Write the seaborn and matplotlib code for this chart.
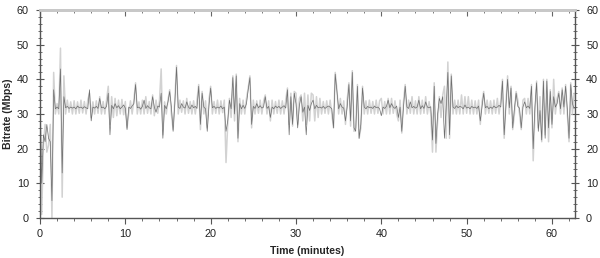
import numpy as np
import pandas as pd
import matplotlib
matplotlib.use("Agg")
import matplotlib.pyplot as plt
from matplotlib.ticker import MultipleLocator
import seaborn as sns

# time step of 0.2 minutes; one row = one minute (5 samples)
step_min = 0.2

dark_rows = [
    [37, 10, 24, 22, 27],
    [23, 22, 5, 37, 31.5],
    [32, 31.5, 43, 13, 35],
    [31.8, 32.2, 31.6, 32, 31.7],
    [32, 31.5, 32.3, 31.8, 32],
    [31.6, 32.1, 31.8, 31.5, 37],
    [28, 32, 31.7, 32.2, 31.6],
    [34.5, 31.8, 32, 31.5, 32.2],
    [36, 24, 32.5, 31.5, 33],
    [31.8, 32.4, 31.5, 32, 32.6],
    [31.7, 25.5, 32, 31.6, 32.3],
    [33, 38.5, 31.8, 32, 31.4],
    [32.2, 34, 31.6, 32.4, 31.8],
    [31.5, 35, 32, 30.5, 32.3],
    [32, 36, 23, 32.5, 31.5],
    [33.5, 36.5, 32, 25, 33],
    [43.5, 32, 31.6, 33, 32],
    [31.7, 33.5, 32, 31.5, 32.6],
    [31.8, 32.2, 31.6, 38, 27],
    [36, 32, 31.5, 25, 32.3],
    [37.5, 31.8, 32.2, 31.6, 32],
    [31.7, 32.3, 31.5, 32, 25],
    [28, 34, 31.5, 40.5, 30],
    [41, 23, 33, 31.5, 32.5],
    [31.6, 33, 37, 40.5, 27],
    [32.2, 31.6, 33, 31.8, 32.4],
    [31.7, 32, 35, 31.6, 32.2],
    [29, 32, 31.5, 32.3, 31.8],
    [32.2, 31.6, 32, 32.4, 31.7],
    [37, 24, 35, 27, 36],
    [33, 26, 32.5, 35, 30.5],
    [32, 24, 32.5, 31, 33],
    [34, 31.5, 32.5, 31.8, 32],
    [31.7, 32.2, 31.6, 32, 32.3],
    [32, 31.5, 26, 41.5, 36.5],
    [31.5, 33, 32, 31.7, 28],
    [32, 38.5, 28, 42, 26],
    [25, 38, 23, 27, 37.5],
    [32, 31.5, 32.2, 31.8, 32],
    [31.6, 32.3, 31.8, 32, 31.5],
    [29.5, 32, 31.6, 32.2, 34],
    [31.8, 33, 32, 31.6, 32.3],
    [29, 32, 25, 32, 38],
    [32, 31.6, 33.5, 31.8, 32.2],
    [31.7, 32, 34, 31.5, 32.4],
    [31.6, 33.5, 32, 31.8, 32.1],
    [22.5, 38, 21.5, 30, 34.5],
    [33, 35, 23, 31.5, 42],
    [24, 41, 32, 31.6, 32.4],
    [31.8, 32.2, 32, 31.5, 32.6],
    [31.7, 32, 31.5, 32.2, 31.8],
    [32, 31.6, 32.3, 28, 32],
    [36, 31.8, 32.2, 31.5, 32],
    [31.6, 32.3, 31.8, 32, 32.5],
    [32, 39.5, 24, 32, 40],
    [31.8, 37.5, 26, 31.6, 36],
    [32.2, 31.7, 26, 32, 33.5],
    [31.8, 32.3, 31.6, 38, 20],
    [32, 39, 25, 31, 22.5],
    [39.5, 23, 39.5, 26, 36.5],
    [27, 35, 32, 33, 36],
    [31.5, 37, 32, 38, 31.5],
    [23, 38.5, 33, 31.5],
]

light_rows = [
    [35, 1, 21, 27, 19],
    [21, 27, 0, 42, 30],
    [33, 30, 49, 6, 41],
    [30, 34, 30.5, 33.5, 30],
    [33.8, 30, 33.5, 30.2, 34],
    [30.3, 33.6, 30, 34, 36],
    [29, 33.5, 30, 33.8, 30.2],
    [35, 30, 33.6, 30, 34],
    [38, 27, 35, 29, 34.5],
    [29.5, 34, 30, 34.2, 29.8],
    [33.6, 26, 30.2, 33.8, 30],
    [34, 39, 30, 33.5, 30],
    [34, 30, 35, 30.2, 33.6],
    [30, 35.5, 29.5, 34, 30.2],
    [33.8, 43, 24, 33.5, 30],
    [34, 37, 30, 25.5, 34],
    [44, 30, 34, 30.5, 33.8],
    [30, 34.5, 30.2, 33.6, 30],
    [33.8, 30, 34, 38.5, 25.5],
    [36.5, 30, 33.8, 26, 34],
    [38, 30, 33.6, 30.2, 34],
    [30, 33.8, 30.4, 34, 16],
    [27, 34.5, 29, 41, 28],
    [41.5, 22, 34.5, 30, 34],
    [30, 34.5, 37.5, 41, 26],
    [34, 30, 33.8, 30.2, 34],
    [30, 33.6, 35.5, 30, 33.8],
    [28, 34, 30, 33.6, 30.2],
    [34, 30, 33.8, 30, 34],
    [37.5, 27, 36, 26.5, 36.5],
    [36, 27, 34.5, 35.5, 28],
    [36, 27, 35.5, 28, 36],
    [35.5, 28, 35, 29, 34.5],
    [30, 33.6, 30.2, 33.8, 30],
    [34, 30, 26, 42, 37],
    [30, 34.5, 30, 33.8, 27],
    [34, 39, 26.5, 42.5, 25],
    [26, 38.5, 23, 26, 38],
    [30, 33.8, 30, 34, 30.2],
    [33.6, 30, 34, 30.2, 33.8],
    [34.5, 30, 33.6, 30, 34.5],
    [30, 34.5, 30.2, 33.8, 30],
    [28, 34, 24.5, 33.5, 38.5],
    [30, 34, 30.2, 35, 30],
    [33.8, 30, 35, 30, 34],
    [30.2, 35, 30, 33.6, 30],
    [19, 39, 19, 28, 35],
    [29, 35.5, 38, 23, 45],
    [23, 41.5, 30, 34, 30],
    [34, 30, 35.5, 30, 35],
    [30.2, 35, 30, 34, 30],
    [33.8, 30, 34, 27, 33.5],
    [36.5, 30, 34, 30.2, 33.8],
    [30, 34, 30.2, 34.5, 30],
    [34, 40, 23, 33, 41],
    [30, 38, 25.5, 30, 36.5],
    [34, 30, 25.5, 34, 34.5],
    [30, 34.5, 30, 38.5, 16.5],
    [30, 39.5, 26, 35, 22],
    [40, 24, 40, 22, 37],
    [26, 40, 30, 34.5, 36.5],
    [30, 37.5, 30, 38.5, 30],
    [22, 39, 30, 36],
]

dark_vals = [v for row in dark_rows for v in row]
light_vals = [v for row in light_rows for v in row]
n = len(dark_vals)
time_min = np.arange(n) * step_min

x_ticks = [0, 10, 20, 30, 40, 50, 60]
y_ticks = [0, 10, 20, 30, 40, 50, 60]

df_light = pd.DataFrame({"t": time_min[:len(light_vals)], "v": light_vals})
df_dark = pd.DataFrame({"t": time_min, "v": dark_vals})

sns.set_style("white")
plt.rcParams["font.family"] = ["Liberation Sans", "DejaVu Sans"]

fig = plt.figure(figsize=(6.0, 2.58), dpi=100)
ax = fig.add_axes([40 / 600, 1 - 218 / 258, 535 / 600, 208 / 258])

sns.lineplot(data=df_light, x="t", y="v", ax=ax, color="#d2d2d2",
             linewidth=1.1, estimator=None, sort=False)
sns.lineplot(data=df_dark, x="t", y="v", ax=ax, color="#6e6e6e",
             linewidth=0.5, estimator=None, sort=False)

ax.set_xlim(0, 62.7)
ax.set_ylim(0, 60)
ax.set_xticks(x_ticks)
ax.set_yticks(y_ticks)
ax.xaxis.set_minor_locator(MultipleLocator(2))
ax.yaxis.set_minor_locator(MultipleLocator(2))

ax.set_xlabel("Time (minutes)", fontsize=7.6, fontweight="bold", labelpad=5)
ax.set_ylabel("Bitrate (Mbps)", fontsize=7.6, fontweight="bold")
ax.yaxis.set_label_coords(-0.050, 0.5)

for side in ["left", "bottom", "right"]:
    ax.spines[side].set_visible(True)
    ax.spines[side].set_color("#555555")
    ax.spines[side].set_linewidth(1.0)
ax.spines["top"].set_visible(True)
ax.spines["top"].set_color("#c8c8c8")
ax.spines["top"].set_linewidth(2.0)

ax.tick_params(axis="y", which="both", left=True, right=True, labelleft=True,
               labelright=True, direction="inout", colors="#555555",
               labelcolor="#222222", labelsize=7.8)
ax.tick_params(axis="y", which="major", length=6, width=0.8, pad=5)
ax.tick_params(axis="y", which="minor", length=3, width=0.6)
ax.tick_params(axis="x", which="both", bottom=True, top=False, direction="out",
               colors="#555555", labelcolor="#222222", labelsize=7.8)
ax.tick_params(axis="x", which="major", length=4, width=0.8, pad=4)
ax.tick_params(axis="x", which="minor", length=2.5, width=0.6)

# inward tick marks under the light top border
top = ax.secondary_xaxis("top")
top.set_xticks(x_ticks)
top.xaxis.set_minor_locator(MultipleLocator(2))
top.tick_params(which="both", direction="in", labeltop=False, colors="#666666")
top.tick_params(which="major", length=4, width=0.8)
top.tick_params(which="minor", length=2.5, width=0.6)
top.spines["top"].set_color("#c8c8c8")
top.spines["top"].set_linewidth(2.0)

fig.savefig("out.png", dpi=100)
